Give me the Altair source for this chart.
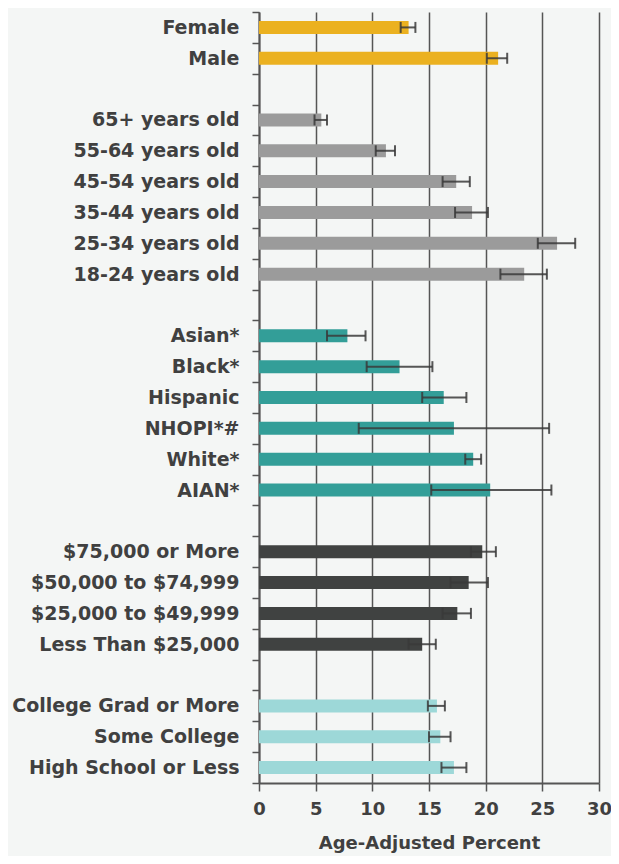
import altair as alt
import pandas as pd

categories = ["Female", "Male",
              "65+ years old", "55-64 years old", "45-54 years old", "35-44 years old", "25-34 years old", "18-24 years old",
              "Asian*", "Black*", "Hispanic", "NHOPI*#", "White*", "AIAN*",
              "$75,000 or More", "$50,000 to $74,999", "$25,000 to $49,999", "Less Than $25,000",
              "College Grad or More", "Some College", "High School or Less"]
groups = ["Sex"] * 2 + ["Age"] * 6 + ["Race"] * 6 + ["Income"] * 4 + ["Education"] * 3
values = [13.2, 21.1,
          5.5, 11.2, 17.4, 18.8, 26.3, 23.4,
          7.8, 12.4, 16.3, 17.2, 18.9, 20.4,
          19.7, 18.5, 17.5, 14.4,
          15.7, 16.0, 17.2]
lows = [12.5, 20.1,
        4.9, 10.3, 16.2, 17.3, 24.6, 21.3,
        6.0, 9.5, 14.4, 8.8, 18.2, 15.2,
        18.7, 16.9, 16.2, 13.2,
        14.9, 15.0, 16.1]
highs = [13.8, 21.9,
         6.0, 12.0, 18.6, 20.2, 27.9, 25.4,
         9.4, 15.3, 18.3, 25.6, 19.6, 25.8,
         20.9, 20.2, 18.7, 15.6,
         16.4, 16.9, 18.3]

y_domain = (categories[0:2] + [" "] + categories[2:8] + ["  "] + categories[8:14] + ["   "]
            + categories[14:18] + ["    "] + categories[18:21])

group_names = ["Sex", "Age", "Race", "Income", "Education"]
group_colors = ["#EBB120", "#9B9B9B", "#339E98", "#404241", "#9DD8D8"]

df = pd.DataFrame({"cat": categories, "group": groups, "value": values, "lo": lows, "hi": highs})

FONT = "DejaVu Sans"
TXT = "#404040"

y_enc = alt.Y("cat:N", sort=y_domain,
              scale=alt.Scale(domain=y_domain, paddingInner=0, paddingOuter=0),
              axis=alt.Axis(title=None, labelFont=FONT, labelFontSize=19, labelFontWeight="bold",
                            labelColor=TXT, labelPadding=13, labelLimit=400, tickSize=7,
                            tickColor="#555555", tickWidth=1.5, tickBand="extent",
                            domainColor="#555555", domainWidth=2, grid=False))

x_scale = alt.Scale(domain=[0, 30], nice=False)
x_axis = alt.Axis(values=[0, 5, 10, 15, 20, 25, 30], grid=True, gridColor="#555555", gridWidth=1.5,
                  tickSize=8, tickColor="#555555", tickWidth=1.5, domainColor="#555555", domainWidth=2,
                  labelFont=FONT, labelFontSize=18, labelFontWeight="bold", labelColor=TXT, labelPadding=9,
                  labelFlush=False,
                  title="Age-Adjusted Percent", titleFont=FONT, titleFontSize=18, titleFontWeight="bold",
                  titleColor=TXT, titlePadding=16)

base = alt.Chart(df)

bars = base.mark_bar(size=13).encode(
    x=alt.X("value:Q", scale=x_scale, axis=x_axis),
    y=y_enc,
    color=alt.Color("group:N", scale=alt.Scale(domain=group_names, range=group_colors), legend=None),
)

rules = base.mark_rule(color="#3a3a3a", strokeWidth=2, opacity=0.85).encode(
    x=alt.X("lo:Q", scale=x_scale), x2="hi:Q", y=alt.Y("cat:N", sort=y_domain))

cap_lo = base.mark_tick(color="#3a3a3a", size=11, thickness=2, opacity=0.85).encode(
    x=alt.X("lo:Q", scale=x_scale), y=alt.Y("cat:N", sort=y_domain))
cap_hi = base.mark_tick(color="#3a3a3a", size=11, thickness=2, opacity=0.85).encode(
    x=alt.X("hi:Q", scale=x_scale), y=alt.Y("cat:N", sort=y_domain))

chart = alt.layer(bars, rules, cap_lo, cap_hi).properties(
    width=340, height=771,
    autosize=alt.AutoSizeParams(type="none"),
    padding={"left": 251, "top": 4, "right": 12, "bottom": 73},
    background="#F4F6F5",
).configure_view(stroke=None)

chart.save("out.html", embed_options={"renderer": "svg", "actions": False})
